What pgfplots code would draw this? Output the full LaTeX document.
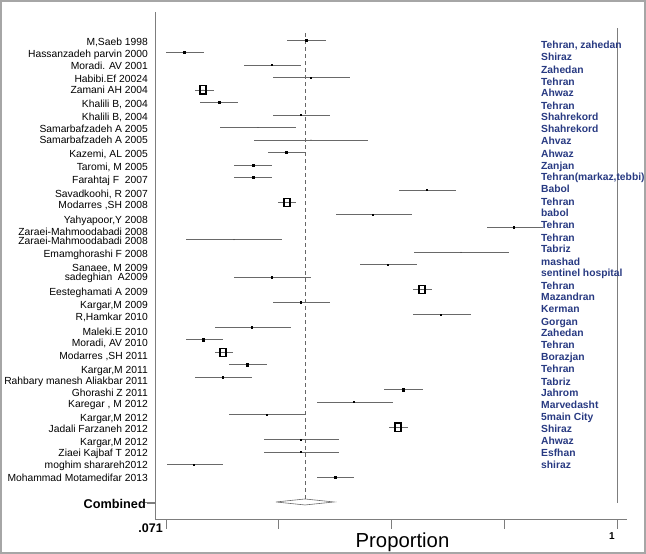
\documentclass[border=0pt]{standalone}
\usepackage{fontspec}
\setmainfont{Liberation Sans}
\usepackage{pgfplots}
\usepackage{pgfplotstable}
\pgfplotsset{compat=1.18}
\definecolor{city}{RGB}{40,58,130}
\definecolor{axgray}{RGB}{125,125,125}
\definecolor{cigray}{RGB}{105,105,105}

% row, estimate, lower, upper (confidence intervals)
\pgfplotstableread{
row est lo hi
1 0.3594 0.3203 0.4006
2 0.1081 0.0710 0.1493
3 0.2893 0.2317 0.3491
4 0.3697 0.2914 0.4500
5 0.1472 0.1307 0.1699
6 0.1802 0.1410 0.2193
7 0.3491 0.2914 0.4088
8 0.2605 0.1822 0.3388
9 0.3697 0.2523 0.4871
10 0.3182 0.2811 0.3594
11 0.2502 0.2111 0.2893
12 0.2502 0.2111 0.2893
13 0.6086 0.5510 0.6684
14 0.3203 0.3009 0.3388
15 0.4974 0.4212 0.5777
16 0.7878 0.7322 0.8476
17 0.2111 0.1122 0.3099
18 0.6787 0.5819 0.7776
19 0.5283 0.4706 0.5880
20 0.2893 0.2111 0.3697
21 0.5983 0.5798 0.6189
22 0.3491 0.2914 0.4088
23 0.6375 0.5798 0.6993
24 0.2482 0.1719 0.3285
25 0.1472 0.1122 0.1884
26 0.1884 0.1719 0.2090
27 0.2379 0.2008 0.2790
28 0.1884 0.1307 0.2482
29 0.5592 0.5201 0.6004
30 0.4583 0.3820 0.5386
31 0.2790 0.2008 0.3594
32 0.5489 0.5304 0.5695
33 0.3491 0.2729 0.4274
34 0.3491 0.2729 0.4274
35 0.1287 0.0731 0.1884
36 0.4191 0.3820 0.4583
}\studies

% point estimates drawn with tiny markers (small weight)
\pgfplotstableread{
row est
3 0.2893
4 0.3697
7 0.3491
13 0.6086
15 0.4974
16 0.7878
19 0.5283
20 0.2893
22 0.3491
23 0.6375
24 0.2482
28 0.1884
30 0.4583
31 0.2790
33 0.3491
34 0.3491
35 0.1287
}\tinypts

% point estimates drawn with small squares
\pgfplotstableread{
row est
1 0.3594
2 0.1081
6 0.1802
10 0.3182
11 0.2502
12 0.2502
25 0.1472
27 0.2379
29 0.5592
36 0.4191
}\smallpts

% point estimates drawn with large boxes
\pgfplotstableread{
row est
5 0.1472
14 0.3203
21 0.5983
26 0.1884
32 0.5489
}\boxpts

\begin{document}
\begin{tikzpicture}[x=1pt,y=1pt]
\useasboundingbox (0,0) rectangle (646,554);
\begin{axis}[
  at={(155pt,35pt)}, anchor=south west,
  scale only axis, width=472pt, height=507pt,
  xmin=0.04834, xmax=1.02061, ymin=-39.363, ymax=1.2425,
  axis x line*=bottom, axis y line*=left,
  axis line style={axgray, line width=0.8pt},
  xtick={0.071,0.30325,0.5355,0.76775,1}, xticklabels={},
  ytick={-38}, yticklabels={},
  tick align=outside, major tick length=10pt,
  tick style={axgray, line width=0.8pt},
  clip=false,
]
% confidence intervals
\addplot[only marks, mark=*, mark size=0.01pt, mark options={draw=none, fill=none}, forget plot,
  error bars/.cd, x dir=both, x explicit, error mark=none,
  error bar style={cigray, line width=0.6pt}]
  table[x=est, y expr=-\thisrow{row},
        x error plus expr=\thisrow{hi}-\thisrow{est},
        x error minus expr=\thisrow{est}-\thisrow{lo}] {\studies};
% point estimates
\addplot[only marks, mark=square*, mark size=0.6pt, black]
  table[x=est, y expr=-\thisrow{row}] {\tinypts};
\addplot[only marks, mark=square*, mark size=1.1pt, black]
  table[x=est, y expr=-\thisrow{row}] {\smallpts};
\addplot[only marks, mark=square, mark size=3pt,
  mark options={yscale=1.35, draw=black, fill=white, line width=1.1pt}]
  table[x=est, y expr=-\thisrow{row}] {\boxpts};
% pooled estimate line, null line, diamond
\addplot[black!60, line width=0.6pt, dash pattern=on 4pt off 3pt] coordinates {(0.3573,-0.44) (0.3573,-37.76)};
\addplot[axgray, line width=0.8pt] coordinates {(1,-0.04) (1,-38.08)};
\addplot[cigray, line width=0.6pt] coordinates {(0.2976,-38) (0.3573,-37.76) (0.4171,-38) (0.3573,-38.24) (0.2976,-38)};
\end{axis}

% study labels
\foreach \ly/\lt in {42/{M,Saeb 1998},54/{Hassanzadeh parvin 2000},66/{Moradi. AV 2001},79/{Habibi.Ef 20024},90/{Zamani AH 2004},104/{Khalili B, 2004},117/{Khalili B, 2004},129/{Samarbafzadeh A 2005},140/{Samarbafzadeh A 2005},154/{Kazemi, AL 2005},167/{Taromi, M 2005},180/{Farahtaj F\ \ 2007},194/{Savadkoohi, R 2007},205/{Modarres ,SH 2008},220/{Yahyapoor,Y 2008},232/{Zaraei-Mahmoodabadi 2008},241/{Zaraei-Mahmoodabadi 2008},254/{Emamghorashi F 2008},268/{Sanaee, M 2009},277/{sadeghian\ \ A2009},292/{Eesteghamati A 2009},305/{Kargar,M 2009},317/{R,Hamkar 2010},332/{Maleki.E 2010},343/{Moradi, AV 2010},356/{Modarres ,SH 2011},370/{Kargar,M 2011},381/{Rahbary manesh Aliakbar 2011},393/{Ghorashi Z 2011},404/{Karegar , M 2012},418/{Kargar,M 2012},429/{Jadali Farzaneh 2012},442/{Kargar,M 2012},453/{Ziaei Kajbaf T 2012},465/{moghim sharareh2012},478/{Mohammad Motamedifar 2013}}
  \node[anchor=base east, inner sep=0pt, font=\fontsize{10.3}{12}\selectfont] at (148,{554-\ly-3.7}) {\lt};

% city labels
\foreach \ly/\lt in {45/{Tehran, zahedan},57/{Shiraz},70/{Zahedan},82/{Tehran},93/{Ahwaz},106/{Tehran},117/{Shahrekord},129/{Shahrekord},141/{Ahvaz},154/{Ahwaz},166/{Zanjan},177/{Tehran(markaz,tebbi)},189/{Babol},202/{Tehran},213/{babol},225/{Tehran},238/{Tehran},249/{Tabriz},262/{mashad},273/{sentinel hospital},286/{Tehran},297/{Mazandran},309/{Kerman},322/{Gorgan},333/{Zahedan},345/{Tehran},357/{Borazjan},369/{Tehran},382/{Tabriz},393/{Jahrom},405/{Marvedasht},417/{5main City},429/{Shiraz},441/{Ahwaz},453/{Esfhan},465/{shiraz}}
  \node[anchor=base west, inner sep=0pt, text=city, font=\bfseries\fontsize{10.3}{12}\selectfont] at (541,{554-\ly-3.7}) {\lt};

\draw[axgray, line width=0.8pt] (155,51) -- (147,51);
\node[anchor=base east, inner sep=0pt, font=\bfseries\fontsize{12.7}{14}\selectfont] at (146,45.5) {Combined};
\node[anchor=base east, inner sep=0pt, font=\bfseries\fontsize{12.5}{14}\selectfont] at (163,21) {.071};
\node[anchor=base east, inner sep=0pt, font=\bfseries\fontsize{10}{12}\selectfont] at (615,14) {1};
\node[anchor=base, inner sep=0pt, font=\fontsize{20.3}{22}\selectfont] at (402.5,6) {Proportion};

\draw[gray!70, line width=2.2pt] (1.3,1.3) rectangle (644.7,552.7);
\end{tikzpicture}
\end{document}
